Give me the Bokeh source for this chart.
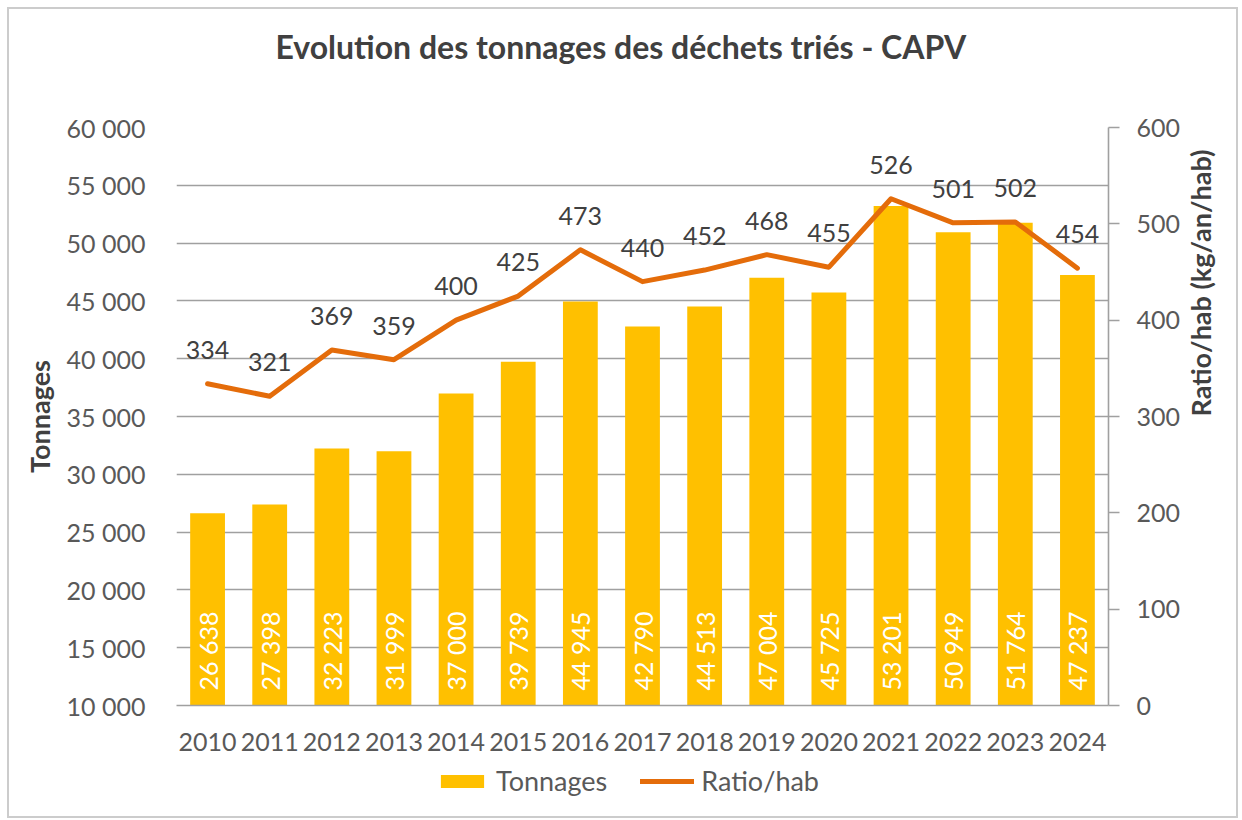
from math import pi
from bokeh.plotting import figure
from bokeh.layouts import column
from bokeh.models import Range1d, LinearAxis, FixedTicker, Legend, LegendItem, ColumnDataSource, Title
from bokeh.core.properties import value
from bokeh.embed import file_html
from bokeh.resources import INLINE

years = ["2010", "2011", "2012", "2013", "2014", "2015", "2016", "2017",
         "2018", "2019", "2020", "2021", "2022", "2023", "2024"]
tonnages = [26638, 27398, 32223, 31999, 37000, 39739, 44945, 42790,
            44513, 47004, 45725, 53201, 50949, 51764, 47237]
ratio = [334, 321, 369, 359, 400, 425, 473, 440, 452, 468, 455, 526, 501, 502, 454]
left_ticks = [10000, 15000, 20000, 25000, 30000, 35000, 40000, 45000, 50000, 55000, 60000]
right_ticks = [0, 100, 200, 300, 400, 500, 600]

FONT = "Lato"
TXT = "#595959"
DARK = "#404040"
GRID = "#a0a0a0"
BAR = "#FFC000"
LINE = "#E46C0A"

W = 1227
H1 = 748
H2 = 59

def fmt(v):
    return f"{v:,}".replace(",", " ")

y_start, y_end = left_ticks[0], left_ticks[-1]

src = ColumnDataSource(dict(
    year=years,
    tonnage=tonnages,
    base=[y_start] * len(years),
    tlabel=[fmt(t) for t in tonnages],
    ratio=ratio,
    rlabel=[str(r) for r in ratio],
))

p = figure(x_range=years, y_range=Range1d(y_start, y_end), title=None,
           width=W, height=H1, output_backend="svg", toolbar_location=None,
           min_border_left=167, min_border_right=127, min_border_top=118, min_border_bottom=52)
p.extra_y_ranges = {"ratio": Range1d(right_ticks[0], right_ticks[-1])}
p.outline_line_color = None

# spacer between title and plot area, then the real title above it
p.add_layout(Title(text=" ", text_font_size="10px", standoff=44), "above")
p.add_layout(Title(text="Evolution des tonnages des déchets triés - CAPV",
                   align="left", offset=99, standoff=10,
                   text_font=FONT, text_font_style="bold", text_font_size="32px",
                   text_color=DARK), "above")

# grid
p.xgrid.grid_line_color = None
p.ygrid.ticker = FixedTicker(ticks=left_ticks)
p.ygrid.grid_line_color = GRID
p.ygrid.grid_line_width = 1.6

# left axis
ya = p.yaxis[0]
ya.ticker = FixedTicker(ticks=left_ticks)
ya.major_label_overrides = {t: fmt(t) for t in left_ticks}
ya.axis_line_color = None
ya.major_tick_line_color = None
ya.minor_tick_line_color = None
ya.major_label_standoff = 25
ya.major_label_text_font = FONT
ya.major_label_text_font_size = "25px"
ya.major_label_text_color = TXT
ya.axis_label = "Tonnages"
ya.axis_label_text_font = FONT
ya.axis_label_text_font_style = "bold"
ya.axis_label_text_font_size = "27px"
ya.axis_label_text_color = DARK
ya.axis_label_standoff = 8

# bottom axis
xa = p.xaxis[0]
xa.axis_line_color = GRID
xa.axis_line_width = 1.6
xa.major_tick_line_color = None
xa.minor_tick_line_color = None
xa.major_label_standoff = 21
xa.major_label_text_font = FONT
xa.major_label_text_font_size = "25px"
xa.major_label_text_color = TXT

# right axis
ra = LinearAxis(y_range_name="ratio", ticker=FixedTicker(ticks=right_ticks),
                axis_label="Ratio/hab (kg/an/hab)")
ra.axis_line_color = GRID
ra.axis_line_width = 1.6
ra.major_tick_line_color = GRID
ra.major_tick_line_width = 1.6
ra.major_tick_out = 11
ra.major_tick_in = 0
ra.minor_tick_line_color = None
ra.major_label_standoff = 17
ra.major_label_text_font = FONT
ra.major_label_text_font_size = "25px"
ra.major_label_text_color = TXT
ra.axis_label_text_font = FONT
ra.axis_label_text_font_style = "bold"
ra.axis_label_text_font_size = "27px"
ra.axis_label_text_color = DARK
ra.axis_label_standoff = 17
ra.axis_label_orientation = pi / 2
p.add_layout(ra, "right")

p.vbar(x="year", top="tonnage", bottom="base", width=0.56, source=src,
       fill_color=BAR, line_color=None)
p.line(x="year", y="ratio", source=src, y_range_name="ratio",
       line_color=LINE, line_width=5, line_join="round", line_cap="round")

p.text(x="year", y="base", text="tlabel", source=src, angle=pi / 2,
       text_align="left", text_baseline="middle", y_offset=-15,
       text_color="white", text_font=value(FONT), text_font_size="25px")
p.text(x="year", y="ratio", text="rlabel", source=src, y_range_name="ratio",
       text_align="center", text_baseline="middle", y_offset=-34,
       text_color=DARK, text_font=value(FONT), text_font_size="25px")

# legend strip below the chart (its renderers are hidden, only the legend shows)
p2 = figure(width=W, height=H2, output_backend="svg", toolbar_location=None,
            x_range=p.x_range, y_range=Range1d(-2 * y_start, -y_start), min_border=0)
p2.axis.visible = False
p2.grid.visible = False
p2.outline_line_color = None
lb = p2.vbar(x="year", top="tonnage", bottom="base", width=0.56, source=src,
             fill_color=BAR, line_color=None)
ll = p2.line(x="year", y="ratio", source=src, line_color=LINE, line_width=5, line_cap="round")
lb.visible = False
ll.visible = False
legend = Legend(items=[LegendItem(label="Tonnages", renderers=[lb]),
                       LegendItem(label="Ratio/hab", renderers=[ll])],
                orientation="horizontal", location=(259, 19), click_policy="none",
                glyph_width=54, glyph_height=16, label_standoff=7, spacing=33,
                label_text_font=FONT, label_text_font_size="27px", label_text_color=TXT,
                border_line_color=None, background_fill_alpha=0, padding=4, margin=0)
p2.add_layout(legend, "center")

layout = column(p, p2, spacing=0, margin=(7, 0, 0, 7),
                styles={"border": "2px solid #cccccc", "box-sizing": "content-box"})

open("out.html", "w").write(file_html(layout, INLINE))
